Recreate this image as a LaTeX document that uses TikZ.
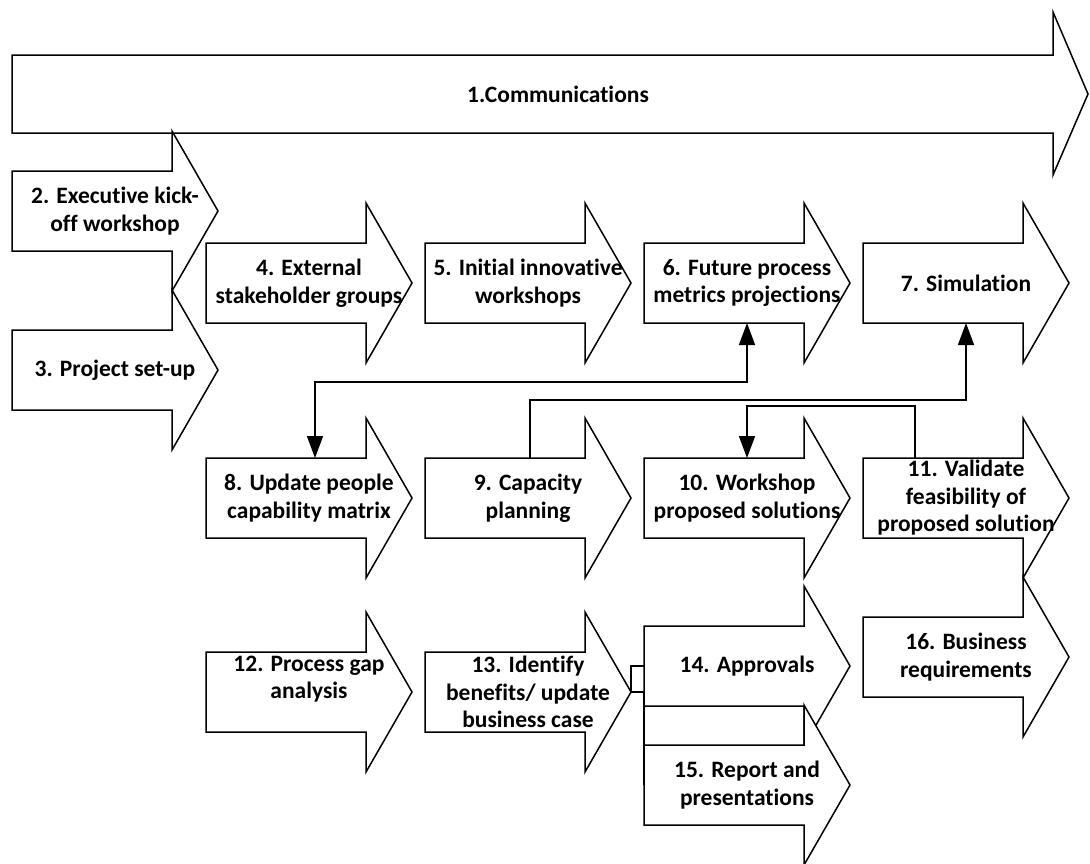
\documentclass[tikz,border=0pt]{standalone}
\usepackage{fontspec}
\setmainfont[Ligatures=NoCommon]{Carlito}
\usetikzlibrary{arrows.meta,calc}

% One process step: a block arrow with a 160 wide body (80 high) and a
% 46 long head (160 high).
% [#1] label shift, #2 name, #3 left x, #4 centre y, #5 label
\newcommand\processstep[5][0]{%
  \draw[stepline] (#3,#4-40) -- (#3+160,#4-40) -- (#3+160,#4-80)
    -- (#3+206,#4) -- (#3+160,#4+80) -- (#3+160,#4+40) -- (#3,#4+40) -- cycle;
  \coordinate (#2-n) at (#3+103,#4-40);
  \coordinate (#2-s) at (#3+103,#4+40);
  \coordinate (#2-w) at (#3,#4);
  \coordinate (#2-e) at (#3+206,#4);
  \node[steplabel] (#2) at (#3+103,#4+#1) {#5};
}

\begin{document}
\begin{tikzpicture}[x=1pt,y=-1pt,
  stepline/.style={draw=black,line width=1.5pt,fill=white,line join=miter},
  steplabel/.style={font=\bfseries\fontsize{23.5}{27.5}\selectfont,align=center,inner sep=0pt},
  link/.style={draw=black,line width=1.5pt},
  head/.style={-{Triangle[length=22pt,width=16pt]}},
  heads/.style={{Triangle[length=22pt,width=16pt]}-{Triangle[length=22pt,width=16pt]}},
]
\useasboundingbox (0,0) rectangle (1090,863);

% 1. the communications stream running across the whole programme
\draw[stepline] (12,55) -- (1053,55) -- (1053,12) -- (1088,94) -- (1053,175)
  -- (1053,133) -- (12,133) -- cycle;
\node[steplabel] (b1) at (558,94) {1.Communications};

% start-up steps
\processstep{b2}{12}{211}{2. Executive kick-\\off workshop}
\processstep{b3}{12}{370}{3. Project set-up}

% first row
\processstep{b4}{206}{283}{4. External\\stakeholder groups}
\processstep{b5}{425}{283}{5. Initial innovative\\workshops}
\processstep{b6}{644}{283}{6. Future process\\metrics projections}
\processstep{b7}{863}{283}{7. Simulation}

% second row
\processstep{b8}{206}{498}{8. Update people\\capability matrix}
\processstep{b9}{425}{498}{9. Capacity\\planning}
\processstep{b10}{644}{498}{10. Workshop\\proposed solutions}
\processstep[0]{b11}{863}{498}{\fontsize{23.5}{30}\selectfont 11. Validate\\feasibility of\\proposed solution}

% third row
\processstep[-13]{b12}{206}{692}{12. Process gap\\analysis}
\processstep{b13}{425}{692}{13. Identify\\benefits/ update\\business case}
\processstep{b14}{644}{666}{14. Approvals}
\processstep{b15}{644}{785}{15. Report and\\presentations}
\processstep{b16}{863}{657}{16. Business\\requirements}

% feedback links
\draw[link,heads] (b6-s) -- ++(0,59) -| ($(b8-n)+(6,0)$);
\draw[link,head] ($(b9-n)+(2,0)$) -- ++(0,-58) -| (b7-s);
\draw[link,head] ($(b11-n)+(-51,0)$) -- ++(0,-52) -| (b10-n);

% hand-over from 13 to 14 and 15
\draw[link] (b13-e) |- (b14-w);
\draw[link] (b13-e) -- ++(13,0) |- (b15-w);
\end{tikzpicture}
\end{document}
